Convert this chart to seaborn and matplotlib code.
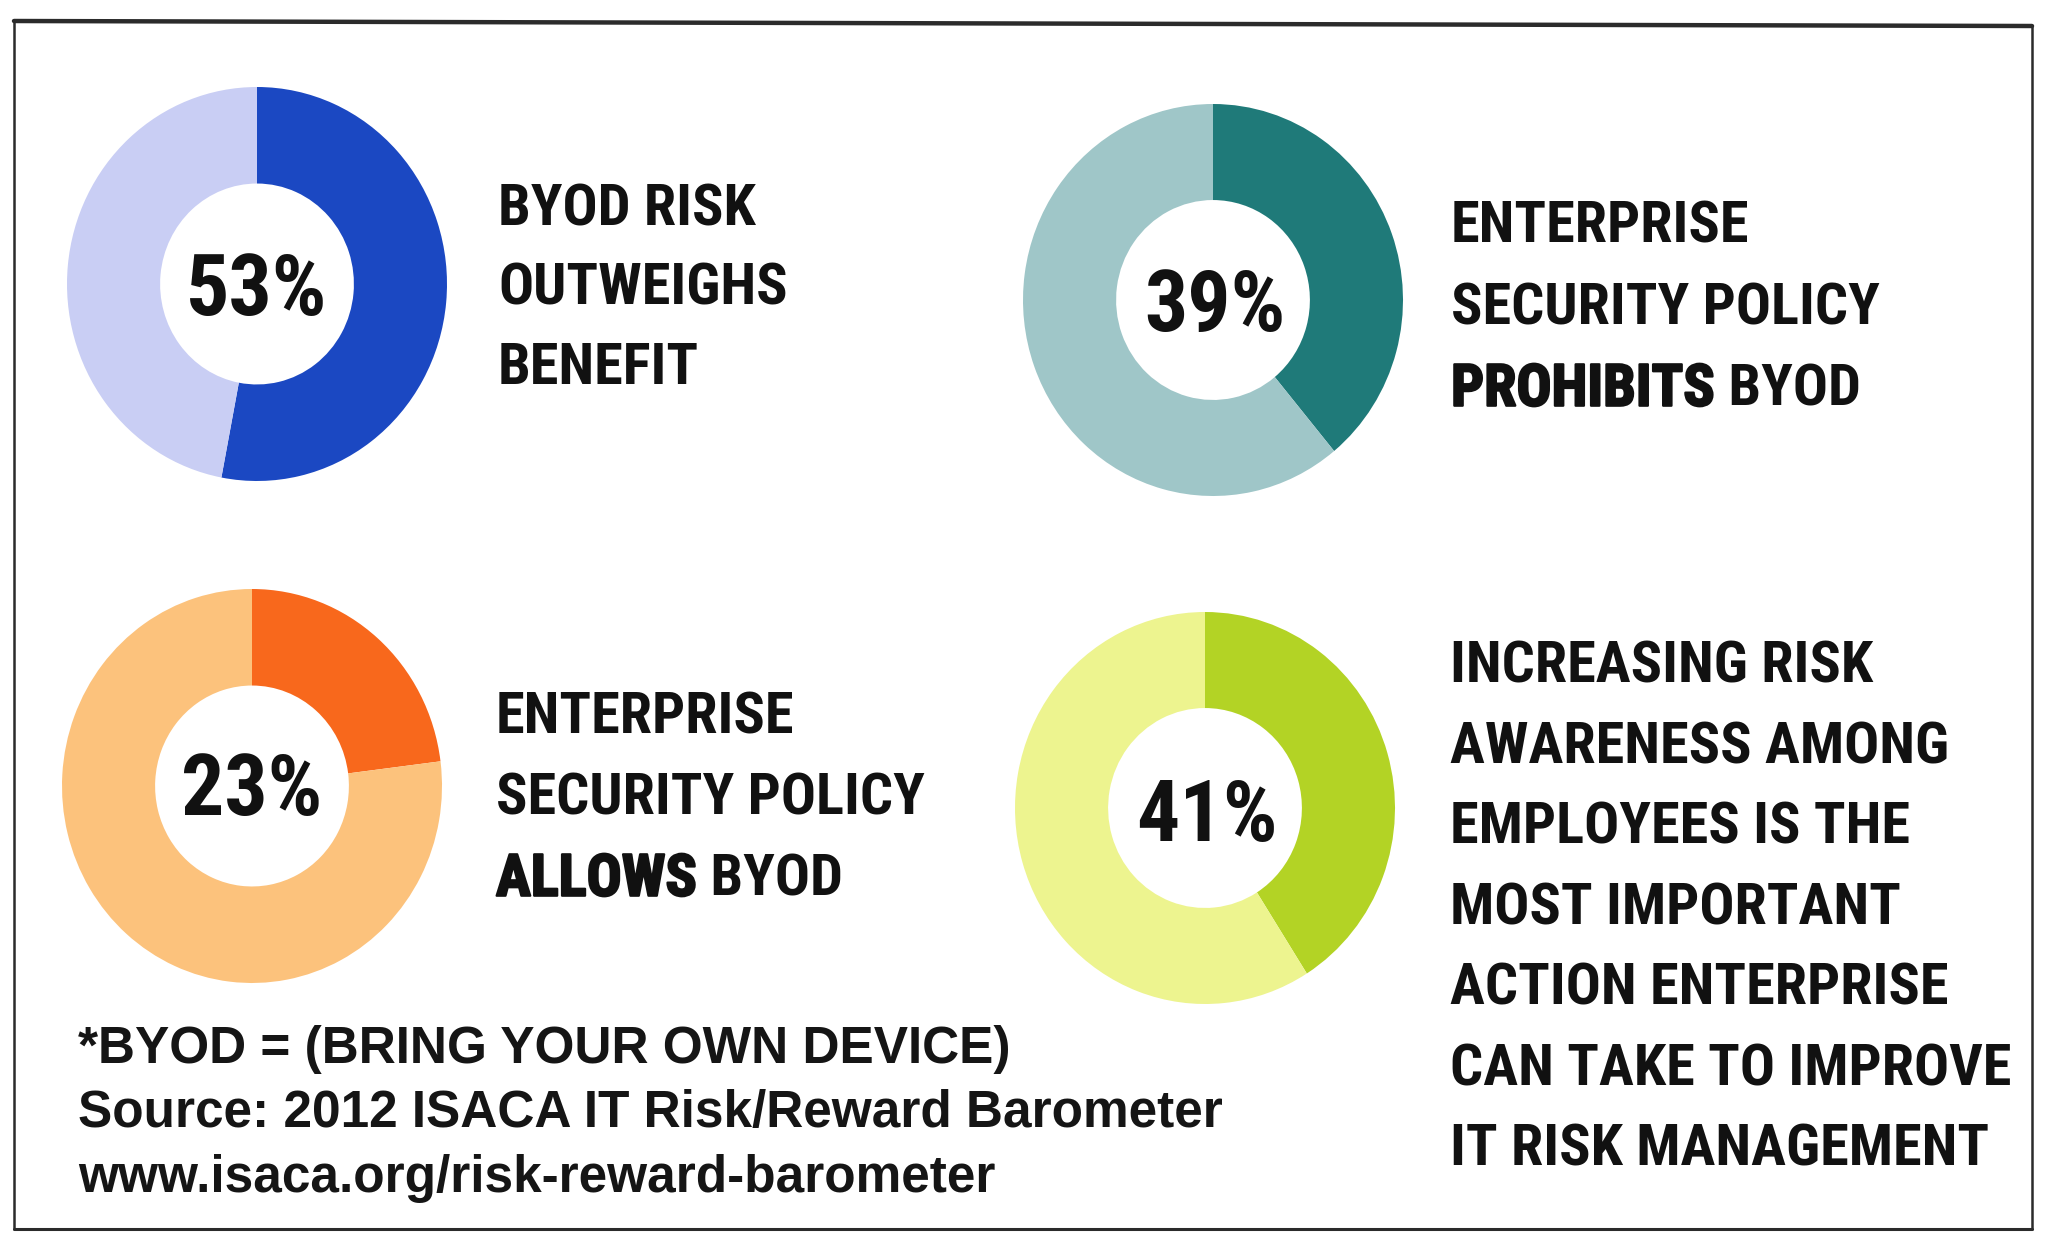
import matplotlib
matplotlib.use("Agg")
import matplotlib.pyplot as plt
import matplotlib.patheffects as pe
from matplotlib.lines import Line2D
from matplotlib import font_manager
from matplotlib.font_manager import FontProperties
from matplotlib.textpath import TextPath
import seaborn as sns

# ---- data ----
percent_values = [53, 39, 23, 41]
percent_labels = ["53%", "39%", "23%", "41%"]
dark_colors = ["#1b48c2", "#1f7a79", "#f8681c", "#b3d325"]
light_colors = ["#c9cef4", "#9fc6c8", "#fcc27c", "#edf48f"]
block1 = ["BYOD RISK", "OUTWEIGHS", "BENEFIT"]
block2 = ["ENTERPRISE", "SECURITY POLICY", ("PROHIBITS", " BYOD")]
block3 = ["ENTERPRISE", "SECURITY POLICY", ("ALLOWS", " BYOD")]
block4 = ["INCREASING RISK", "AWARENESS AMONG", "EMPLOYEES IS THE",
          "MOST IMPORTANT", "ACTION ENTERPRISE", "CAN TAKE TO IMPROVE",
          "IT RISK MANAGEMENT"]
footnotes = ["*BYOD = (BRING YOUR OWN DEVICE)",
             "Source: 2012 ISACA IT Risk/Reward Barometer",
             "www.isaca.org/risk-reward-barometer"]

sns.set_theme(style="white")

avail = {f.name for f in font_manager.fontManager.ttflist}
COND_NAME = "Liberation Sans"
for cand in ["Roboto Condensed", "Liberation Sans Narrow", "Arial Narrow",
             "DejaVu Sans Condensed", "Open Sans Condensed", "Roboto",
             "Liberation Sans"]:
    if cand in avail:
        COND_NAME = cand
        break
COND = [COND_NAME, "DejaVu Sans"]
plt.rcParams["font.family"] = COND

PX_PER_PT = 100 / 72.0


def ink(text, family, weight="bold", stretch="condensed"):
    fp = FontProperties(family=family, weight=weight, stretch=stretch)
    ext = TextPath((0, 0), text, size=100, prop=fp).get_extents()
    return ext.width, ext.height


def fit_size(pairs, cap_target, family, slack=1.0, weight="bold"):
    _, cap_u = ink("H", family, weight)
    fs_h = cap_target * 100 / (cap_u * PX_PER_PT)
    ws = []
    for txt, w_target in pairs:
        w_u, _ = ink(txt, family, weight)
        ws.append(w_target * 100 / (w_u * PX_PER_PT))
    fs = min(fs_h, min(ws) * slack)
    cap_px = cap_u / 100 * fs * PX_PER_PT
    return fs, cap_px


S = 2048 / 1568.0
block_fs, block_cap = fit_size(
    [("OUTWEIGHS", 232 * S), ("SECURITY POLICY", 344 * S),
     ("CAN TAKE TO IMPROVE", 418 * S), ("AWARENESS AMONG", 379 * S),
     ("BYOD RISK", 215 * S)], 51, COND_NAME, slack=1.02)
pct_fs, pct_cap = fit_size([("53%", 108 * S), ("39%", 108 * S)], 61,
                           COND_NAME, slack=1.03)

W, H = 2048, 1236
fig = plt.figure(figsize=(W / 100, H / 100), dpi=100, facecolor="white")

bg = fig.add_axes([0, 0, 1, 1])
bg.set_xlim(0, W)
bg.set_ylim(H, 0)
bg.axis("off")

# frame
frame_col = "#2b2b2b"
bg.add_line(Line2D([14, 2032], [21, 26], color=frame_col, lw=3.2))
bg.add_line(Line2D([14, 14], [21, 1229], color=frame_col, lw=1.8))
bg.add_line(Line2D([2032, 2032], [26, 1229], color=frame_col, lw=1.8))
bg.add_line(Line2D([14, 2032], [1229, 1229], color=frame_col, lw=2.2))

# donuts (center x, center y, rx, ry) in pixels
donut_geom = [(257, 284, 190, 197), (1213, 300, 190, 196),
              (252, 786, 190, 197), (1205, 808, 190, 196)]
pct_centers = [(257, 285), (1215, 300), (252, 784), (1207, 811)]
for i, (cx, cy, rx, ry) in enumerate(donut_geom):
    ax = fig.add_axes([(cx - rx) / W, 1 - (cy + ry) / H, 2 * rx / W, 2 * ry / H])
    v = percent_values[i]
    ax.pie([v, 100 - v], colors=[dark_colors[i], light_colors[i]],
           startangle=90, counterclock=False, radius=1.0,
           wedgeprops=dict(width=0.49, edgecolor="none", linewidth=0))
    ax.set_aspect("auto")
    ax.set_xlim(-1, 1)
    ax.set_ylim(-1, 1)
    ax.axis("off")
    px, py = pct_centers[i]
    bg.text(px, py + pct_cap / 2, percent_labels[i], ha="center", va="baseline",
            fontsize=pct_fs, fontweight="bold", fontstretch="condensed",
            color="#111111", family=COND, zorder=10)

TXT = dict(fontsize=block_fs, fontweight="bold", fontstretch="condensed",
           color="#111111", family=COND)
heavy = [pe.withStroke(linewidth=1.6, foreground="#111111")]


def draw_block(lines, x, c0, pitch):
    for k, line in enumerate(lines):
        y = c0 + k * pitch + block_cap / 2
        if isinstance(line, tuple):
            t1 = bg.text(x, y, line[0], path_effects=heavy, va="baseline",
                         ha="left", **TXT)
            bg.annotate(line[1], xy=(1, 0), xycoords=t1, ha="left",
                        va="bottom", **TXT)
        else:
            bg.text(x, y, line, va="baseline", ha="left", **TXT)


draw_block(block1, 498, 205, 79)
draw_block(block2, 1451, 222, 81.5)
draw_block(block3, 496, 713, 81)
draw_block(block4, 1450, 662, 80.5)

foot_fs = 37
for k, line in enumerate(footnotes):
    bg.text(78, 1063 + k * 64.5, line, ha="left", va="baseline",
            fontsize=foot_fs, fontweight="bold", color="#151515",
            family=["Liberation Sans", "DejaVu Sans"])

fig.savefig("out.png", dpi=100, facecolor="white")
